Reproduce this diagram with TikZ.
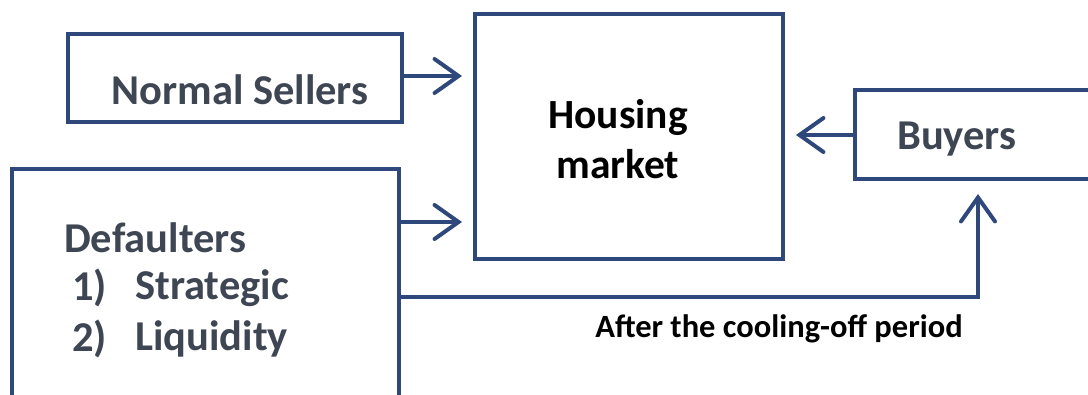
\documentclass[tikz,border=0pt]{standalone}
\usepackage{fontspec}
\setmainfont{Carlito}
\usetikzlibrary{arrows.meta}
\definecolor{frame}{RGB}{46,72,124}
\definecolor{boxtext}{RGB}{62,70,84}
\tikzset{
  box/.style={draw=frame, line width=4pt, rectangle, inner sep=0pt},
  lbl/.style={font=\bfseries\fontsize{42.5}{50}\selectfont, text=boxtext, inner sep=0pt},
  mlbl/.style={font=\bfseries\fontsize{41.5}{50}\selectfont, text=black, inner sep=0pt},
  arr/.style={draw=frame, line width=4pt, -{Straight Barb[length=24pt,width=34pt,line cap=round]}},
  line/.style={draw=frame, line width=4pt}
}
\begin{document}
\begin{tikzpicture}[x=1pt,y=-1pt]
\useasboundingbox (0,0) rectangle (1088,394);
\clip (0,0) rectangle (1088,394);
% boxes
\node[box, minimum width=334pt, minimum height=88pt, anchor=north west] (ns) at (66,32) {};
\node[box, minimum width=387pt, minimum height=250pt, anchor=north west] (def) at (10,167) {};
\node[box, minimum width=308pt, minimum height=245pt, anchor=north west] (hm) at (473,12) {};
\node[box, minimum width=260pt, minimum height=89pt, anchor=north west] (buy) at (853,88) {};
% labels
\node[lbl] (nst) at (240,90) {Normal Sellers};
\node[mlbl] (hm1) at (618,117) {Housing};
\node[mlbl] (hm2) at (618,164) {market};
\node[lbl, anchor=west] (buyt) at (897,139) {Buyers};
\node[lbl, anchor=west] (d0) at (64,238) {Defaulters};
\node[lbl, anchor=west] (d1n) at (72,288) {1)};
\node[lbl, anchor=west] (d1) at (135,288) {Strategic};
\node[lbl, anchor=west] (d2n) at (72,339) {2)};
\node[lbl, anchor=west] (d2) at (135,339) {Liquidity};
\node[font=\bfseries\fontsize{32.5}{36}\selectfont, inner sep=0pt] (after) at (779,329) {After the cooling-off period};
% connectors
\coordinate (ya) at (0,76);
\coordinate (yb) at (0,222);
\coordinate (yc) at (0,135);
\coordinate (yd) at (0,297);
\coordinate (xd) at (978,0);
\draw[arr, shorten >=11pt] (ns.east |- ya) -- (hm.west |- ya);
\draw[arr, shorten >=11pt] (def.east |- yb) -- (hm.west |- yb);
\draw[arr, shorten >=11pt] (buy.west |- yc) -- (hm.east |- yc);
\draw[arr, shorten >=13pt] (def.east |- yd) -- (xd |- yd) -- (xd |- buy.south);
\end{tikzpicture}
\end{document}
